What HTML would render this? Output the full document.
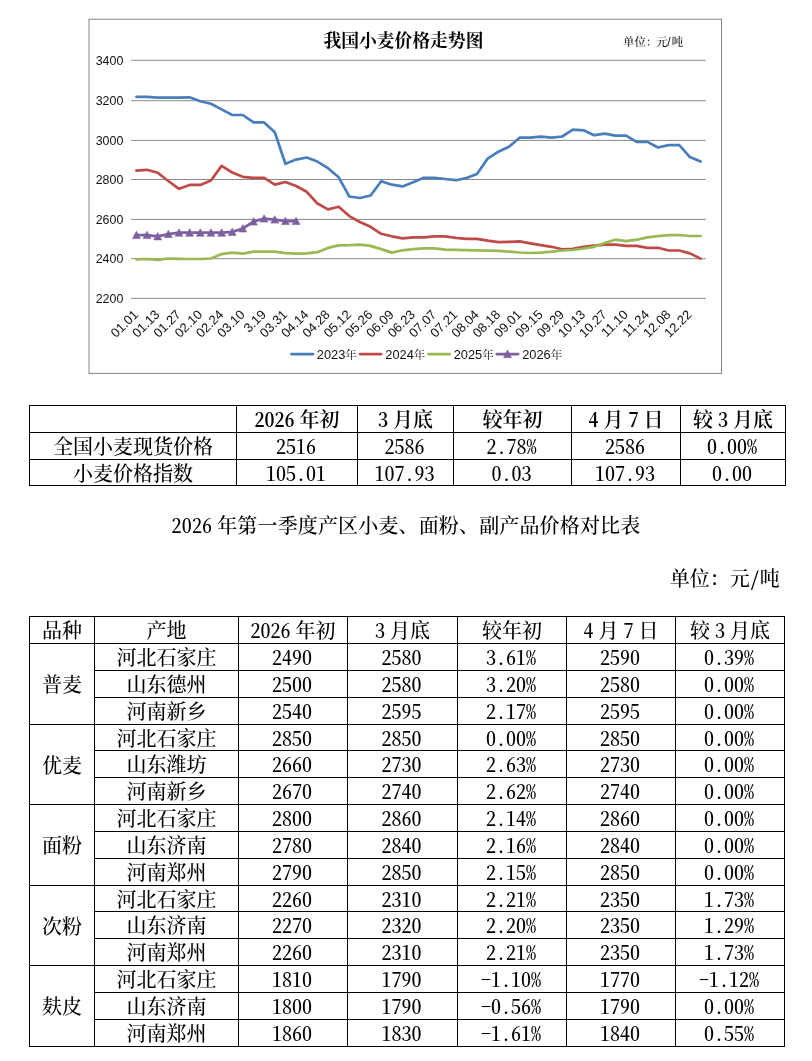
<!DOCTYPE html>
<html lang="zh-CN">
<head>
<meta charset="utf-8">
<title>我国小麦价格走势图</title>
<style>
html,body{margin:0;padding:0;background:#fff;}
body{width:812px;height:1061px;position:relative;overflow:hidden;color:#000;
 font-family:"Noto Serif CJK SC","Liberation Serif",serif;font-size:20px;font-weight:500;font-feature-settings:"hwid";}
.chart{position:absolute;left:0;top:0;font-feature-settings:normal;font-weight:400;}
table.t{position:absolute;border-collapse:separate;border-spacing:0;table-layout:fixed;border-left:1px solid #000;border-top:1px solid #000;}
table.t td{box-sizing:border-box;border-right:1px solid #000;border-bottom:1px solid #000;padding:0;text-align:center;vertical-align:middle;
 line-height:20px;white-space:nowrap;overflow:hidden;}
table.t td{padding-top:0px}
table.t td.n{padding-right:2px}
.s{letter-spacing:-5px}
tr.hb td{font-weight:600}
.ttl{position:absolute;left:0;width:812px;text-align:center;top:513px;line-height:24px;white-space:nowrap;letter-spacing:0.15px;}
.unit{position:absolute;right:32.3px;top:566px;line-height:24px;white-space:nowrap;}
</style>
</head>
<body>
<svg class="chart" width="812" height="390" viewBox="0 0 812 390">
<rect x="89.0" y="19.2" width="632.5" height="354.2" fill="#fff" stroke="#868686" stroke-width="1"/>
<line x1="131.1" x2="705.9" y1="60.30" y2="60.30" stroke="#8a8a8a" stroke-width="1"/>
<line x1="131.1" x2="705.9" y1="100.70" y2="100.70" stroke="#8a8a8a" stroke-width="1"/>
<line x1="131.1" x2="705.9" y1="140.40" y2="140.40" stroke="#8a8a8a" stroke-width="1"/>
<line x1="131.1" x2="705.9" y1="179.50" y2="179.50" stroke="#8a8a8a" stroke-width="1"/>
<line x1="131.1" x2="705.9" y1="219.40" y2="219.40" stroke="#8a8a8a" stroke-width="1"/>
<line x1="131.1" x2="705.9" y1="258.70" y2="258.70" stroke="#8a8a8a" stroke-width="1"/>
<line x1="131.1" x2="705.9" y1="298.40" y2="298.40" stroke="#8a8a8a" stroke-width="1"/>
<g font-family="'Liberation Sans', sans-serif" font-size="12.4" fill="#111" text-anchor="end">
<text x="123.3" y="64.7">3400</text>
<text x="123.3" y="105.1">3200</text>
<text x="123.3" y="144.8">3000</text>
<text x="123.3" y="183.9">2800</text>
<text x="123.3" y="223.8">2600</text>
<text x="123.3" y="263.1">2400</text>
<text x="123.3" y="302.8">2200</text>
</g>
<g font-family="'Liberation Sans', sans-serif" font-size="13.0" fill="#111" text-anchor="end">
<text transform="translate(139.1 315.3) rotate(-45)">01.01</text>
<text transform="translate(160.4 315.3) rotate(-45)">01.13</text>
<text transform="translate(181.7 315.3) rotate(-45)">01.27</text>
<text transform="translate(203.0 315.3) rotate(-45)">02.10</text>
<text transform="translate(224.3 315.3) rotate(-45)">02.24</text>
<text transform="translate(245.5 315.3) rotate(-45)">03.10</text>
<text transform="translate(266.8 315.3) rotate(-45)">3.19</text>
<text transform="translate(288.1 315.3) rotate(-45)">03.31</text>
<text transform="translate(309.4 315.3) rotate(-45)">04.14</text>
<text transform="translate(330.7 315.3) rotate(-45)">04.28</text>
<text transform="translate(352.0 315.3) rotate(-45)">05.12</text>
<text transform="translate(373.3 315.3) rotate(-45)">05.26</text>
<text transform="translate(394.6 315.3) rotate(-45)">06.09</text>
<text transform="translate(415.9 315.3) rotate(-45)">06.23</text>
<text transform="translate(437.2 315.3) rotate(-45)">07.07</text>
<text transform="translate(458.4 315.3) rotate(-45)">07.21</text>
<text transform="translate(479.7 315.3) rotate(-45)">08.04</text>
<text transform="translate(501.0 315.3) rotate(-45)">08.18</text>
<text transform="translate(522.3 315.3) rotate(-45)">09.01</text>
<text transform="translate(543.6 315.3) rotate(-45)">09.15</text>
<text transform="translate(564.9 315.3) rotate(-45)">09.29</text>
<text transform="translate(586.2 315.3) rotate(-45)">10.13</text>
<text transform="translate(607.5 315.3) rotate(-45)">10.27</text>
<text transform="translate(628.8 315.3) rotate(-45)">11.10</text>
<text transform="translate(650.1 315.3) rotate(-45)">11.24</text>
<text transform="translate(671.4 315.3) rotate(-45)">12.08</text>
<text transform="translate(692.6 315.3) rotate(-45)">12.22</text>
</g>
<polyline points="136.4,96.8 147.0,96.8 157.7,97.6 168.3,97.6 179.0,97.6 189.6,97.3 200.3,101.3 210.9,103.7 221.6,109.4 232.2,115.0 242.8,115.0 253.5,122.4 264.1,122.4 274.8,132.3 285.4,163.8 296.1,159.6 306.7,157.5 317.4,161.6 328.0,168.2 338.7,177.3 349.3,196.5 359.9,198.0 370.6,195.5 381.2,181.2 391.9,184.7 402.5,186.4 413.2,182.2 423.8,177.8 434.5,177.8 445.1,179.0 455.8,180.2 466.4,178.0 477.0,174.1 487.7,158.6 498.3,151.7 509.0,146.8 519.6,137.7 530.3,137.7 540.9,136.7 551.6,137.7 562.2,136.5 572.8,129.6 583.5,130.3 594.1,135.2 604.8,133.7 615.4,135.7 626.1,135.7 636.7,141.9 647.4,141.9 658.0,147.5 668.6,145.1 679.3,145.1 689.9,157.1 700.6,161.6" fill="none" stroke="#4a7ebb" stroke-width="2.70" stroke-linejoin="round" stroke-linecap="round"/>
<polyline points="136.4,170.6 147.0,169.8 157.7,172.8 168.3,181.0 179.0,188.8 189.6,184.9 200.3,184.9 210.9,180.5 221.6,165.9 232.2,172.5 242.8,176.8 253.5,177.9 264.1,177.9 274.8,184.6 285.4,182.0 296.1,186.0 306.7,191.8 317.4,203.5 328.0,209.4 338.7,206.7 349.3,216.1 359.9,222.0 370.6,226.8 381.2,233.8 391.9,236.3 402.5,238.3 413.2,237.3 423.8,237.3 434.5,236.3 445.1,236.3 455.8,237.8 466.4,238.8 477.0,238.8 487.7,240.7 498.3,242.2 509.0,241.9 519.6,241.4 530.3,243.3 540.9,245.1 551.6,246.8 562.2,249.3 572.8,248.8 583.5,246.8 594.1,245.6 604.8,244.6 615.4,244.6 626.1,245.8 636.7,245.8 647.4,247.8 658.0,247.8 668.6,250.5 679.3,250.5 689.9,253.4 700.6,258.6" fill="none" stroke="#be4b48" stroke-width="2.70" stroke-linejoin="round" stroke-linecap="round"/>
<polyline points="136.4,259.3 147.0,259.0 157.7,259.8 168.3,258.5 179.0,258.8 189.6,259.0 200.3,259.0 210.9,258.5 221.6,254.1 232.2,252.6 242.8,253.6 253.5,251.6 264.1,251.6 274.8,251.6 285.4,253.1 296.1,253.6 306.7,253.4 317.4,252.2 328.0,247.9 338.7,245.4 349.3,245.2 359.9,244.7 370.6,245.9 381.2,249.1 391.9,252.6 402.5,250.3 413.2,249.1 423.8,248.4 434.5,248.4 445.1,249.6 455.8,249.9 466.4,250.1 477.0,250.3 487.7,250.6 498.3,250.8 509.0,251.7 519.6,252.5 530.3,253.0 540.9,252.7 551.6,251.7 562.2,250.5 572.8,250.0 583.5,248.5 594.1,246.8 604.8,242.9 615.4,239.7 626.1,241.1 636.7,239.7 647.4,237.4 658.0,236.2 668.6,235.2 679.3,235.0 689.9,236.0 700.6,236.0" fill="none" stroke="#98b954" stroke-width="2.70" stroke-linejoin="round" stroke-linecap="round"/>
<polyline points="136.4,235.1 147.0,235.1 157.7,236.4 168.3,234.1 179.0,232.7 189.6,232.7 200.3,232.7 210.9,232.7 221.6,232.7 232.2,231.9 242.8,228.5 253.5,221.6 264.1,218.6 274.8,219.6 285.4,221.1 296.1,221.1" fill="none" stroke="#7d60a0" stroke-width="2.70" stroke-linejoin="round" stroke-linecap="round"/>
<path d="M136.4 231.2 l3.9 7.4 h-7.8 z" fill="#7d60a0" stroke="#7d60a0" stroke-width="0.6" stroke-linejoin="round"/>
<path d="M147.0 231.2 l3.9 7.4 h-7.8 z" fill="#7d60a0" stroke="#7d60a0" stroke-width="0.6" stroke-linejoin="round"/>
<path d="M157.7 232.5 l3.9 7.4 h-7.8 z" fill="#7d60a0" stroke="#7d60a0" stroke-width="0.6" stroke-linejoin="round"/>
<path d="M168.3 230.2 l3.9 7.4 h-7.8 z" fill="#7d60a0" stroke="#7d60a0" stroke-width="0.6" stroke-linejoin="round"/>
<path d="M179.0 228.8 l3.9 7.4 h-7.8 z" fill="#7d60a0" stroke="#7d60a0" stroke-width="0.6" stroke-linejoin="round"/>
<path d="M189.6 228.8 l3.9 7.4 h-7.8 z" fill="#7d60a0" stroke="#7d60a0" stroke-width="0.6" stroke-linejoin="round"/>
<path d="M200.3 228.8 l3.9 7.4 h-7.8 z" fill="#7d60a0" stroke="#7d60a0" stroke-width="0.6" stroke-linejoin="round"/>
<path d="M210.9 228.8 l3.9 7.4 h-7.8 z" fill="#7d60a0" stroke="#7d60a0" stroke-width="0.6" stroke-linejoin="round"/>
<path d="M221.6 228.8 l3.9 7.4 h-7.8 z" fill="#7d60a0" stroke="#7d60a0" stroke-width="0.6" stroke-linejoin="round"/>
<path d="M232.2 228.0 l3.9 7.4 h-7.8 z" fill="#7d60a0" stroke="#7d60a0" stroke-width="0.6" stroke-linejoin="round"/>
<path d="M242.8 224.6 l3.9 7.4 h-7.8 z" fill="#7d60a0" stroke="#7d60a0" stroke-width="0.6" stroke-linejoin="round"/>
<path d="M253.5 217.7 l3.9 7.4 h-7.8 z" fill="#7d60a0" stroke="#7d60a0" stroke-width="0.6" stroke-linejoin="round"/>
<path d="M264.1 214.7 l3.9 7.4 h-7.8 z" fill="#7d60a0" stroke="#7d60a0" stroke-width="0.6" stroke-linejoin="round"/>
<path d="M274.8 215.7 l3.9 7.4 h-7.8 z" fill="#7d60a0" stroke="#7d60a0" stroke-width="0.6" stroke-linejoin="round"/>
<path d="M285.4 217.2 l3.9 7.4 h-7.8 z" fill="#7d60a0" stroke="#7d60a0" stroke-width="0.6" stroke-linejoin="round"/>
<path d="M296.1 217.2 l3.9 7.4 h-7.8 z" fill="#7d60a0" stroke="#7d60a0" stroke-width="0.6" stroke-linejoin="round"/>
<text x="403.4" y="46.6" text-anchor="middle" font-family="'Liberation Serif', 'Noto Serif CJK SC', serif" font-weight="700" font-size="17.8" fill="#000">我国小麦价格走势图</text>
<text x="623.0" y="46.2" font-family="'Liberation Sans', 'Noto Serif CJK SC', serif" font-size="11.4" font-weight="500" fill="#111">单位：<tspan dx="-1">元</tspan><tspan dx="-0.4" font-size="12.2">/</tspan><tspan dx="1.2">吨</tspan></text>
<g font-family="'Liberation Sans', 'Noto Serif CJK SC', sans-serif" font-size="12.8" fill="#111">
<line x1="291.4" x2="313.0" y1="354.1" y2="354.1" stroke="#4a7ebb" stroke-width="2.7" stroke-linecap="round"/>
<text x="316.8" y="358.5">2023<tspan font-size="11.5">年</tspan></text>
<line x1="360.1" x2="381.2" y1="354.1" y2="354.1" stroke="#be4b48" stroke-width="2.7" stroke-linecap="round"/>
<text x="385.3" y="358.5">2024<tspan font-size="11.5">年</tspan></text>
<line x1="428.4" x2="449.6" y1="354.1" y2="354.1" stroke="#98b954" stroke-width="2.7" stroke-linecap="round"/>
<text x="453.7" y="358.5">2025<tspan font-size="11.5">年</tspan></text>
<line x1="496.8" x2="518.2" y1="354.1" y2="354.1" stroke="#7d60a0" stroke-width="2.7" stroke-linecap="round"/>
<path d="M507.5 350.0 l3.9 7.6 h-7.8 z" fill="#7d60a0" stroke="#7d60a0" stroke-width="0.7" stroke-linejoin="round"/>
<text x="522.2" y="358.5">2026<tspan font-size="11.5">年</tspan></text>
</g>
</svg>
<table class="t" style="left:29px;top:405px">
<colgroup><col style="width:207px"><col style="width:121px"><col style="width:96px"><col style="width:118px"><col style="width:109px"><col style="width:105px"></colgroup>
<tr class="hb" style="height:27px"><td></td><td>2026<span class="s"> </span>年初</td><td>3<span class="s"> </span>月底</td><td>较年初</td><td>4<span class="s"> </span>月<span class="s"> </span>7<span class="s"> </span>日</td><td>较<span class="s"> </span>3<span class="s"> </span>月底</td></tr>
<tr style="height:27px"><td>全国小麦现货价格</td><td class="n">2516</td><td class="n">2586</td><td class="n">2.78%</td><td class="n">2586</td><td class="n">0.00%</td></tr>
<tr style="height:26px"><td>小麦价格指数</td><td class="n">105.01</td><td class="n">107.93</td><td class="n">0.03</td><td class="n">107.93</td><td class="n">0.00</td></tr>
</table>
<div class="ttl">2026<span class="s"> </span>年第一季度产区小麦、面粉、副产品价格对比表</div>
<div class="unit">单位：元/吨</div>
<table class="t" style="left:29px;top:616px">
<colgroup><col style="width:65px"><col style="width:144px"><col style="width:109px"><col style="width:110px"><col style="width:109px"><col style="width:109px"><col style="width:109px"></colgroup>
<tr style="height:27px"><td>品种</td><td>产地</td><td>2026<span class="s"> </span>年初</td><td>3<span class="s"> </span>月底</td><td>较年初</td><td>4<span class="s"> </span>月<span class="s"> </span>7<span class="s"> </span>日</td><td>较<span class="s"> </span>3<span class="s"> </span>月底</td></tr>
<tr style="height:27px"><td rowspan="3">普麦</td><td>河北石家庄</td><td class="n">2490</td><td class="n">2580</td><td class="n">3.61%</td><td class="n">2590</td><td class="n">0.39%</td></tr>
<tr style="height:27px"><td>山东德州</td><td class="n">2500</td><td class="n">2580</td><td class="n">3.20%</td><td class="n">2580</td><td class="n">0.00%</td></tr>
<tr style="height:27px"><td>河南新乡</td><td class="n">2540</td><td class="n">2595</td><td class="n">2.17%</td><td class="n">2595</td><td class="n">0.00%</td></tr>
<tr style="height:26px"><td rowspan="3">优麦</td><td>河北石家庄</td><td class="n">2850</td><td class="n">2850</td><td class="n">0.00%</td><td class="n">2850</td><td class="n">0.00%</td></tr>
<tr style="height:27px"><td>山东潍坊</td><td class="n">2660</td><td class="n">2730</td><td class="n">2.63%</td><td class="n">2730</td><td class="n">0.00%</td></tr>
<tr style="height:27px"><td>河南新乡</td><td class="n">2670</td><td class="n">2740</td><td class="n">2.62%</td><td class="n">2740</td><td class="n">0.00%</td></tr>
<tr style="height:27px"><td rowspan="3">面粉</td><td>河北石家庄</td><td class="n">2800</td><td class="n">2860</td><td class="n">2.14%</td><td class="n">2860</td><td class="n">0.00%</td></tr>
<tr style="height:27px"><td>山东济南</td><td class="n">2780</td><td class="n">2840</td><td class="n">2.16%</td><td class="n">2840</td><td class="n">0.00%</td></tr>
<tr style="height:27px"><td>河南郑州</td><td class="n">2790</td><td class="n">2850</td><td class="n">2.15%</td><td class="n">2850</td><td class="n">0.00%</td></tr>
<tr style="height:26px"><td rowspan="3">次粉</td><td>河北石家庄</td><td class="n">2260</td><td class="n">2310</td><td class="n">2.21%</td><td class="n">2350</td><td class="n">1.73%</td></tr>
<tr style="height:27px"><td>山东济南</td><td class="n">2270</td><td class="n">2320</td><td class="n">2.20%</td><td class="n">2350</td><td class="n">1.29%</td></tr>
<tr style="height:27px"><td>河南郑州</td><td class="n">2260</td><td class="n">2310</td><td class="n">2.21%</td><td class="n">2350</td><td class="n">1.73%</td></tr>
<tr style="height:27px"><td rowspan="3">麸皮</td><td>河北石家庄</td><td class="n">1810</td><td class="n">1790</td><td class="n">-1.10%</td><td class="n">1770</td><td class="n">-1.12%</td></tr>
<tr style="height:27px"><td>山东济南</td><td class="n">1800</td><td class="n">1790</td><td class="n">-0.56%</td><td class="n">1790</td><td class="n">0.00%</td></tr>
<tr style="height:27px"><td>河南郑州</td><td class="n">1860</td><td class="n">1830</td><td class="n">-1.61%</td><td class="n">1840</td><td class="n">0.55%</td></tr>
</table>
</body>
</html>
